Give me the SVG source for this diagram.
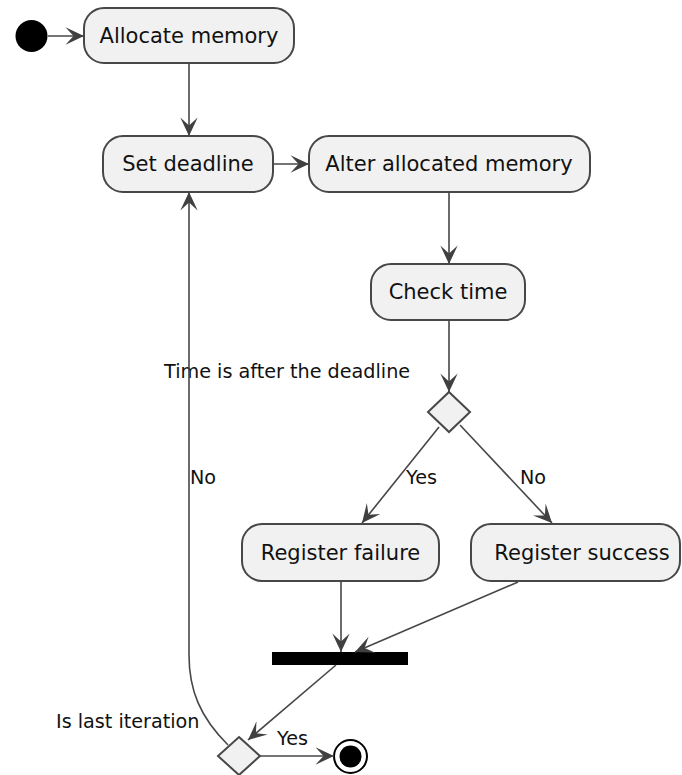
<svg xmlns="http://www.w3.org/2000/svg" width="682" height="775" viewBox="0 0 682 775">
  <style>
    .box { fill: #F1F1F1; stroke: #474747; stroke-width: 2; }
    .lbl { font-family: "DejaVu Sans", Verdana, sans-serif; font-size: 21px; fill: #111; text-anchor: middle; }
    .note { font-family: "DejaVu Sans", Verdana, sans-serif; font-size: 19.2px; fill: #111; }
    .edge { fill: none; stroke: #474747; stroke-width: 1.6; marker-end: url(#head); }
  </style>
  <defs>
    <marker id="head" markerUnits="userSpaceOnUse" markerWidth="22" markerHeight="22" viewBox="-18 -9 19 18" refX="0" refY="0" orient="auto">
      <path d="M0,0 L-16,-7.5 L-9,0 L-16,7.5 Z" fill="#404040"/>
    </marker>
  </defs>

  <!-- start -->
  <g id="start">
    <circle cx="31.5" cy="36" r="16" fill="#000"/>
  </g>

  <g id="allocate">
    <rect class="box" x="84" y="8" width="210" height="55" rx="20"/>
    <text class="lbl" x="189" y="43">Allocate memory</text>
  </g>

  <g id="setDeadline">
    <rect class="box" x="103" y="136" width="170" height="56" rx="20"/>
    <text class="lbl" x="188" y="171">Set deadline</text>
  </g>

  <g id="alter">
    <rect class="box" x="309" y="136" width="281" height="56" rx="20"/>
    <text class="lbl" x="449" y="171">Alter allocated memory</text>
  </g>

  <g id="checkTime">
    <rect class="box" x="371" y="264" width="154" height="56" rx="20"/>
    <text class="lbl" x="448" y="299">Check time</text>
  </g>

  <g id="deadlineCheck">
    <polygon class="box" points="449,392 470,412 449,432 428,412"/>
    <text class="note" x="164" y="378">Time is after the deadline</text>
  </g>

  <g id="registerFailure">
    <rect class="box" x="242" y="524" width="197" height="57" rx="20"/>
    <text class="lbl" x="340.5" y="560">Register failure</text>
  </g>

  <g id="registerSuccess">
    <rect class="box" x="471" y="524" width="209" height="57" rx="20"/>
    <text class="lbl" x="582" y="560">Register success</text>
  </g>

  <g id="join">
    <rect x="272" y="652" width="136" height="13" fill="#000"/>
  </g>

  <g id="lastIteration">
    <polygon class="box" points="239,737 260,756 239,775 218,756"/>
    <text class="note" x="56" y="728">Is last iteration</text>
  </g>

  <g id="end">
    <circle cx="350.5" cy="756.5" r="16.5" fill="none" stroke="#000" stroke-width="2"/>
    <circle cx="350.5" cy="756.5" r="11" fill="#000"/>
  </g>

  <g id="connectors">
    <path class="edge" d="M48,36 L84,36"/>
    <path class="edge" d="M189,63 L189,136"/>
    <path class="edge" d="M273,164 L309,164"/>
    <path class="edge" d="M449,192 L449,264"/>
    <path class="edge" d="M449,320 L449,392"/>
    <path class="edge" d="M439,427 L362,523"/>
    <path class="edge" d="M460,425 L552,523"/>
    <path class="edge" d="M341,581 L341,652"/>
    <path class="edge" d="M518,582 L355,652"/>
    <path class="edge" d="M336,665 L248,740"/>
    <path class="edge" d="M260,756 L334,756"/>
    <path class="edge" d="M228,745 C200,717 189,690 189,655 L189,192"/>
    <text class="note" x="406" y="484">Yes</text>
    <text class="note" x="520" y="484">No</text>
    <text class="note" x="190" y="484">No</text>
    <text class="note" x="277" y="745">Yes</text>
  </g>
</svg>
